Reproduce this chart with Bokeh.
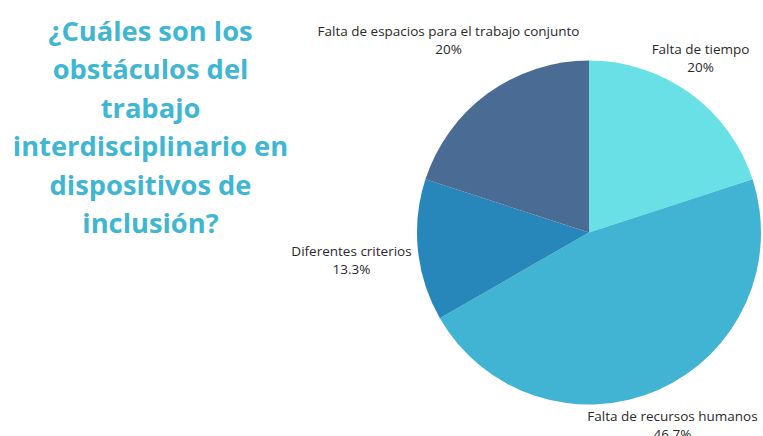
from math import pi
from bokeh.plotting import figure
from bokeh.models import Range1d, ColumnDataSource
from bokeh.core.properties import value
from bokeh.embed import file_html
from bokeh.resources import INLINE

# ---- data ----
categories = ["Falta de tiempo", "Falta de recursos humanos",
              "Diferentes criterios", "Falta de espacios para el trabajo conjunto"]
values = [20.0, 46.7, 13.3, 20.0]
pct_labels = ["20%", "46.7%", "13.3%", "20%"]
colors = ["#68e0e6", "#42b4d3", "#2887ba", "#4a6b93"]
title_lines = ["¿Cuáles son los", "obstáculos del", "trabajo",
               "interdisciplinario en", "dispositivos de", "inclusión?"]

W, H = 763, 436

def sx(x):
    return x

def sy(y):
    return H - y

p = figure(width=W, height=H, output_backend="svg", toolbar_location=None,
           x_range=Range1d(0, W), y_range=Range1d(0, H), min_border=0,
           outline_line_color=None)
p.axis.visible = False
p.grid.visible = False
p.background_fill_color = "white"
p.border_fill_color = "white"

# pie
total = sum(values)
starts, ends = [], []
a = pi / 2
for v in values:
    starts.append(a)
    a2 = a - v / total * 2 * pi
    ends.append(a2)
    a = a2
src = ColumnDataSource(dict(start=starts, end=ends, color=colors))
cx, cy, r = sx(588.5), sy(232), 172
p.wedge(x=cx, y=cy, radius=r, start_angle="start", end_angle="end",
        direction="clock", fill_color="color", line_color=None, source=src)

# labels (layout positions in screen px: center x, first-line y)
label_pos = [(700, 48), (672, 415), (351, 250), (448, 30)]
for cat, pl, (lx, ly) in zip(categories, pct_labels, label_pos):
    p.text(x=[sx(lx), sx(lx)], y=[sy(ly), sy(ly + 18.5)], text=[cat, pl],
           text_font=value("Open Sans"), text_font_size="13.5px",
           text_color="#2a2a2a", text_align="center", text_baseline="middle")

# title
for i, line in enumerate(title_lines):
    p.text(x=[sx(150)], y=[sy(30 + i * 38.4)], text=[line],
           text_font=value("Open Sans"), text_font_style="bold",
           text_font_size="27.3px", text_color="#40b6d3",
           text_align="center", text_baseline="middle")

open("out.html", "w").write(file_html(p, INLINE))
